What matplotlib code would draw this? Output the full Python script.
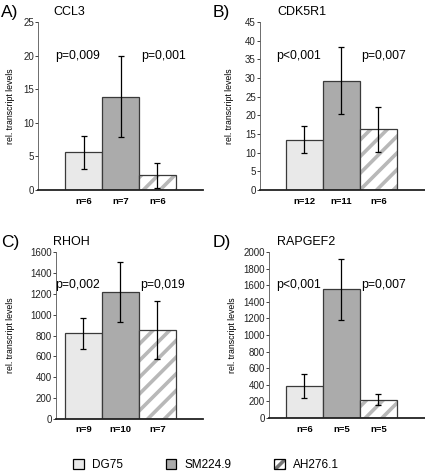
import matplotlib
matplotlib.use("Agg")
import matplotlib.pyplot as plt
from matplotlib.patches import Patch

plt.rcParams['font.family'] = ['Liberation Sans', 'DejaVu Sans']
plt.rcParams['hatch.linewidth'] = 2.6

groups = ["DG75", "SM224.9", "AH276.1"]

ccl3_vals = [5.6, 13.9, 2.2]
ccl3_err = [2.45, 6.0, 1.85]
ccl3_n = ["n=6", "n=7", "n=6"]
ccl3_p = ["p=0,009", "p=0,001"]

cdk5r1_vals = [13.5, 29.3, 16.3]
cdk5r1_err = [3.7, 9.0, 6.0]
cdk5r1_n = ["n=12", "n=11", "n=6"]
cdk5r1_p = ["p<0,001", "p=0,007"]

rhoh_vals = [820, 1215, 850]
rhoh_err = [147, 290, 278]
rhoh_n = ["n=9", "n=10", "n=7"]
rhoh_p = ["p=0,002", "p=0,019"]

rapgef2_vals = [384, 1550, 222]
rapgef2_err = [146, 365, 62]
rapgef2_n = ["n=6", "n=5", "n=5"]
rapgef2_p = ["p<0,001", "p=0,007"]

W, H = 425, 472
fig = plt.figure(figsize=(W / 100, H / 100), dpi=100)

face = ['#e9e9e9', '#ababab', 'white']
hatches = [None, None, '//']
hatch_col = '#b8b8b8'
edge = '#3a3a3a'


def panel(letter, title, vals, err, ns, ps, left, right, top, bottom,
          xl, ymax, ystep, ylab_x, n_y):
    ax = fig.add_axes([left / W, 1 - bottom / H, (right - left) / W, (bottom - top) / H])
    x = [0, 1, 2]
    for i in range(3):
        if hatches[i]:
            ax.bar(x[i], vals[i], width=1.0, color=face[i], edgecolor=hatch_col,
                   linewidth=0, hatch=hatches[i], zorder=2)
            ax.bar(x[i], vals[i], width=1.0, fill=False, edgecolor=edge,
                   linewidth=0.9, zorder=2.1)
        else:
            ax.bar(x[i], vals[i], width=1.0, color=face[i], edgecolor=edge,
                   linewidth=0.9, zorder=2)
    ax.errorbar(x, vals, yerr=err, fmt='none', ecolor='black', elinewidth=0.9,
                capsize=2.2, capthick=0.9, zorder=3)
    ax.set_xlim(xl)
    ax.set_ylim(0, ymax)
    ax.set_yticks(list(range(0, ymax + 1, ystep)))
    ax.set_xticks([])
    for s in ['top', 'right']:
        ax.spines[s].set_visible(False)
    ax.spines['left'].set_linewidth(0.6)
    ax.spines['left'].set_color('#555555')
    ax.spines['bottom'].set_linewidth(1.3)
    ax.spines['bottom'].set_color('#222222')
    ax.tick_params(axis='y', length=2, width=0.6, pad=1, labelsize=7,
                   colors='#222222')
    ax.set_ylabel("rel. transcript levels", fontsize=6.3)
    ax.yaxis.set_label_coords((ylab_x - left) / (right - left), 0.5)
    # p-values
    ax.text(0 - 0.15, ymax * 0.8, ps[0], ha='center', va='center', fontsize=8.8)
    ax.text(2 + 0.15, ymax * 0.8, ps[1], ha='center', va='center', fontsize=8.8)
    # n labels
    for i in range(3):
        ax.text(x[i], -(n_y - bottom) / (bottom - top) * ymax, ns[i],
                ha='center', va='center', fontsize=6.8, fontweight='bold')
    yoff = 0 if letter in 'AB' else 230 / H
    fig.text((1 if letter in 'AC' else 213) / W, 1 - 13 / H - yoff,
             letter + ")", fontsize=12.5, ha='left', va='center')
    fig.text((53 if letter in 'AC' else 277) / W, 1 - 12 / H - yoff,
             title, fontsize=9, ha='left', va='center')
    return ax


axA = panel('A', 'CCL3', ccl3_vals, ccl3_err, ccl3_n, ccl3_p,
            38, 203, 22, 190, (-1.23, 3.23), 25, 5, 15, 202)
axB = panel('B', 'CDK5R1', cdk5r1_vals, cdk5r1_err, cdk5r1_n, cdk5r1_p,
            260, 425, 22, 190, (-1.2, 3.26), 45, 5, 234, 202)
axC = panel('C', 'RHOH', rhoh_vals, rhoh_err, rhoh_n, rhoh_p,
            56, 203, 252, 419, (-0.74, 3.23), 1600, 200, 15, 429)
axD = panel('D', 'RAPGEF2', rapgef2_vals, rapgef2_err, rapgef2_n, rapgef2_p,
            269, 425, 252, 418, (-0.96, 3.26), 2000, 200, 237, 429)

handles = []
for i in range(3):
    if hatches[i]:
        handles.append((Patch(facecolor='white', edgecolor='#777777', hatch='///', linewidth=0),
                        Patch(fill=False, edgecolor='black', linewidth=0.9)))
    else:
        handles.append(Patch(facecolor=face[i], edgecolor='black', linewidth=0.9))
fig.legend(handles, groups, loc='center', bbox_to_anchor=(0.485, 1 - 465 / H),
           ncol=3, frameon=False, fontsize=8.5, handlelength=0.9, handleheight=0.9,
           columnspacing=3.6, handletextpad=0.7)

fig.savefig("out.png", dpi=100)
